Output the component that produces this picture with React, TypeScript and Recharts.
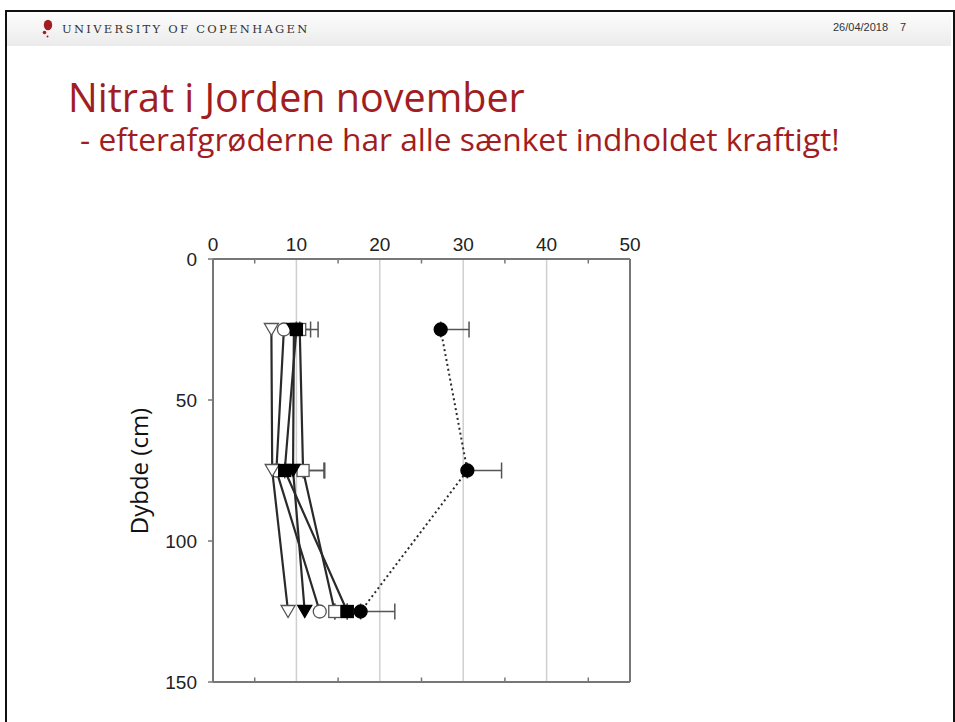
import React from "react";
import {
  ScatterChart,
  Scatter,
  XAxis,
  YAxis,
  CartesianGrid,
  ErrorBar,
  ReferenceLine,
} from "recharts";

const depths = [25, 75, 125];
const openTriangle = [7.0, 7.1, 9.0];
const filledTriangle = [9.7, 9.6, 11.0];
const openCircle = [8.5, 7.6, 12.8];
const openSquare = [10.4, 10.8, 14.6];
const openSquareErr = [1.3, 2.6, 0];
const filledSquare = [10.0, 8.6, 16.1];
const filledSquareErr = [2.6, 4.7, 0];
const control = [27.3, 30.5, 17.7];
const controlErr = [3.4, 4.1, 4.1];

const xTicks = [0, 10, 20, 30, 40, 50];
const minorXTicks = [5, 15, 25, 35, 45];
const yTicks = [0, 50, 100, 150];

const build = (vals: number[], errs?: number[]) =>
  depths.map((d, i) => ({ x: vals[i], y: d, err: [0, errs ? errs[i] : 0] }));

const INK = "#2a2a2a";

const makeShape = (kind: string, filled: boolean) => (props: any) => {
  const { cx, cy } = props;
  if (cx == null || cy == null) return <g />;
  const fill = filled ? "#000" : "#fff";
  const stroke = filled ? "#000" : "#555";
  if (kind === "square") {
    const s = 12;
    return <rect x={cx - s / 2} y={cy - s / 2} width={s} height={s} fill={fill} stroke={stroke} strokeWidth={1.3} />;
  }
  if (kind === "circle") {
    return <circle cx={cx} cy={cy} r={6.5} fill={fill} stroke={stroke} strokeWidth={1.3} />;
  }
  const w = 14;
  const h = 12;
  return (
    <polygon
      points={`${cx - w / 2},${cy - h / 2} ${cx + w / 2},${cy - h / 2} ${cx},${cy + h / 2}`}
      fill={fill}
      stroke={stroke}
      strokeWidth={1.3}
    />
  );
};

const solidLine = { stroke: INK, strokeWidth: 2.2 };

export default function App() {
  return (
    <div
      style={{
        position: "absolute",
        left: 0,
        top: 0,
        width: 955,
        height: 722,
        background: "#fff",
        overflow: "hidden",
        fontFamily: "'Open Sans', sans-serif",
      }}
    >
      {/* slide frame */}
      <div
        style={{
          position: "absolute",
          left: 5,
          top: 10,
          width: 946,
          height: 730,
          borderLeft: "2px solid #111",
          borderTop: "2px solid #111",
          borderRight: "2px solid #111",
        }}
      />
      {/* header band */}
      <div
        style={{
          position: "absolute",
          left: 7,
          top: 12,
          width: 944,
          height: 34,
          background: "linear-gradient(#fdfdfd, #ebebeb)",
        }}
      />
      <svg style={{ position: "absolute", left: 38, top: 17 }} width={20} height={24}>
        <ellipse cx={10} cy={8} rx={4.2} ry={5.2} fill="#a11d21" />
        <circle cx={6.5} cy={15.5} r={1.8} fill="#a11d21" />
        <circle cx={9.5} cy={19.5} r={1} fill="#a11d21" />
      </svg>
      <div
        style={{
          position: "absolute",
          left: 62,
          top: 22,
          fontFamily: "'DejaVu Serif', serif",
          fontSize: 11.5,
          letterSpacing: 2.3,
          color: "#333",
          whiteSpace: "nowrap",
        }}
      >
        UNIVERSITY OF COPENHAGEN
      </div>
      <div
        style={{
          position: "absolute",
          left: 833,
          top: 21,
          fontFamily: "'Liberation Sans', Arial, sans-serif",
          fontSize: 11,
          color: "#333",
        }}
      >
        26/04/2018
      </div>
      <div
        style={{
          position: "absolute",
          left: 900,
          top: 21,
          fontFamily: "'Liberation Sans', Arial, sans-serif",
          fontSize: 11,
          color: "#333",
        }}
      >
        7
      </div>
      {/* titles */}
      <div
        style={{
          position: "absolute",
          left: 68,
          top: 78,
          fontSize: 39.5,
          color: "#a11d21",
          whiteSpace: "nowrap",
          lineHeight: 1,
        }}
      >
        Nitrat i Jorden november
      </div>
      <div
        style={{
          position: "absolute",
          left: 80,
          top: 123,
          fontSize: 31.7,
          color: "#a11d21",
          whiteSpace: "nowrap",
          lineHeight: 1,
        }}
      >
        - efterafgrøderne har alle sænket indholdet kraftigt!
      </div>
      {/* y label */}
      <div
        style={{
          position: "absolute",
          left: 139,
          top: 471,
          transform: "translate(-50%, -50%) rotate(-90deg)",
          fontSize: 24,
          color: "#111",
          whiteSpace: "nowrap",
          lineHeight: 1,
        }}
      >
        Dybde (cm)
      </div>
      <div style={{ position: "absolute", left: 150, top: 220 }}>
        <ScatterChart
          width={520}
          height={480}
          margin={{ top: 9, right: 40, bottom: 18, left: 13 }}
        >
          <CartesianGrid horizontal={false} stroke="#cfcfcf" strokeWidth={1.5} />
          <XAxis
            type="number"
            dataKey="x"
            orientation="top"
            domain={[0, 50]}
            ticks={xTicks}
            height={30}
            tickLine={false}
            axisLine={{ stroke: "#777", strokeWidth: 2 }}
            tick={{ fontSize: 19, fill: "#222", fontFamily: "'Liberation Sans', Arial, sans-serif" }}
            allowDataOverflow
          />
          <YAxis
            type="number"
            dataKey="y"
            domain={[0, 150]}
            reversed
            ticks={yTicks}
            width={50}
            tickSize={5}
            tickMargin={11}
            tickLine={{ stroke: "#777", strokeWidth: 1.5 }}
            axisLine={{ stroke: "#777", strokeWidth: 2 }}
            tick={{ fontSize: 19, fill: "#222", fontFamily: "'Liberation Sans', Arial, sans-serif" }}
            allowDataOverflow
          />
          <ReferenceLine x={50} stroke="#777" strokeWidth={2} />
          <ReferenceLine y={150} stroke="#777" strokeWidth={2} />
          {minorXTicks.map((t) => (
            <ReferenceLine
              key={"t" + t}
              segment={[{ x: t, y: 0 }, { x: t, y: 1.6 }]}
              stroke="#777"
              strokeWidth={1.5}
            />
          ))}
          {minorXTicks.map((t) => (
            <ReferenceLine
              key={"b" + t}
              segment={[{ x: t, y: 148.4 }, { x: t, y: 150 }]}
              stroke="#777"
              strokeWidth={1.5}
            />
          ))}
          <Scatter
            data={build(openCircle)}
            line={solidLine}
            shape={makeShape("circle", false)}
            isAnimationActive={false}
          />
          <Scatter
            data={build(openTriangle)}
            line={solidLine}
            shape={makeShape("triangle", false)}
            isAnimationActive={false}
          />
          <Scatter
            data={build(openSquare, openSquareErr)}
            line={solidLine}
            shape={makeShape("square", false)}
            isAnimationActive={false}
          >
            <ErrorBar dataKey="err" direction="x" width={8} stroke="#555" strokeWidth={1.5} />
          </Scatter>
          <Scatter
            data={build(filledTriangle)}
            line={solidLine}
            shape={makeShape("triangle", true)}
            isAnimationActive={false}
          />
          <Scatter
            data={build(filledSquare, filledSquareErr)}
            line={solidLine}
            shape={makeShape("square", true)}
            isAnimationActive={false}
          >
            <ErrorBar dataKey="err" direction="x" width={8} stroke="#555" strokeWidth={1.5} />
          </Scatter>
          <Scatter
            data={build(control, controlErr)}
            line={{ stroke: INK, strokeWidth: 2, strokeDasharray: "2 3" }}
            shape={makeShape("circle", true)}
            isAnimationActive={false}
          >
            <ErrorBar dataKey="err" direction="x" width={8} stroke="#555" strokeWidth={1.5} />
          </Scatter>
        </ScatterChart>
      </div>
    </div>
  );
}
